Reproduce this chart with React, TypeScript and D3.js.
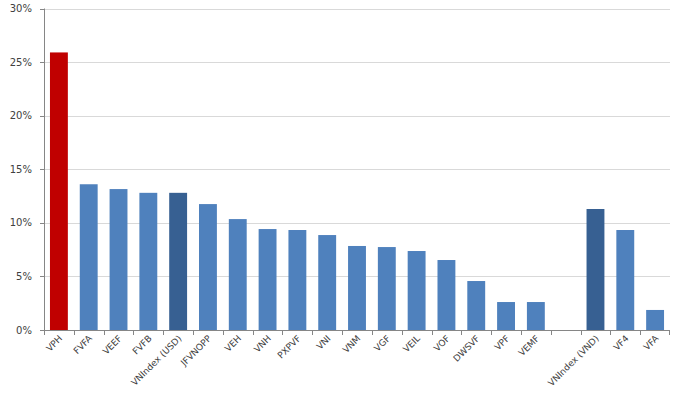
import React from "react";
import * as d3 from "d3";

const categories = ["VPH","FVFA","VEEF","FVFB","VNIndex (USD)","JFVNOPP","VEH","VNH","PXPVF","VNI","VNM","VGF","VEIL","VOF","DWSVF","VPF","VEMF","","VNIndex (VND)","VF4","VFA"];
const values: (number | null)[] = [25.9,13.6,13.15,12.8,12.8,11.75,10.35,9.42,9.33,8.86,7.84,7.74,7.37,6.53,4.57,2.61,2.61,null,11.29,9.33,1.87];
const kinds = ["hi","n","n","n","idx","n","n","n","n","n","n","n","n","n","n","n","n","n","idx","n","n"];
const yTicks = [0,5,10,15,20,25,30];

const colors: Record<string,string> = { hi: "#C00000", n: "#4F81BD", idx: "#376092" };

export default function App() {
  const W = 678, H = 407;
  const left = 44, right = 670, top = 8.5, bottom = 330;
  const x = d3.scaleBand().domain(categories.map((c, i) => String(i))).range([left, right]).paddingInner(0.4).paddingOuter(0.2);
  const y = d3.scaleLinear().domain([0, 30]).range([bottom, top]);
  const step = x.step();
  const font = "DejaVu Sans, Verdana, sans-serif";
  return (
    <svg width={W} height={H} style={{ position: "absolute", left: 0, top: 0, background: "#fff" }}>
      {yTicks.map(t => (
        <g key={t}>
          {t > 0 && <line x1={left} x2={right} y1={Math.round(y(t)) + 0.5} y2={Math.round(y(t)) + 0.5} stroke="#d9d9d9" strokeWidth={1} />}
          <line x1={left - 4} x2={left} y1={Math.round(y(t)) + 0.5} y2={Math.round(y(t)) + 0.5} stroke="#868686" />
          <text x={left - 12} y={y(t)} dy="0.35em" textAnchor="end" fontFamily={font} fontSize={10} fill="#404040">{t}%</text>
        </g>
      ))}
      {values.map((v, i) => v == null ? null : (
        <rect key={i} x={x(String(i))} y={y(v)} width={x.bandwidth()} height={y(0) - y(v)} fill={colors[kinds[i]]} />
      ))}
      <line x1={left + 0.5} x2={left + 0.5} y1={top} y2={bottom} stroke="#868686" />
      <line x1={left} x2={right} y1={bottom + 0.5} y2={bottom + 0.5} stroke="#868686" />
      {categories.map((c, i) => {
        const x0 = left + step * i;
        return <line key={"t" + i} x1={Math.round(x0) + 0.5} x2={Math.round(x0) + 0.5} y1={bottom} y2={bottom + 5} stroke="#868686" />;
      })}
      <line x1={right - 0.5} x2={right - 0.5} y1={bottom} y2={bottom + 5} stroke="#868686" />
      {categories.map((c, i) => {
        const cx = (x(String(i)) as number) + x.bandwidth() / 2 + 4;
        return c ? (
          <text key={"l" + i} transform={`translate(${cx},${bottom + 9}) rotate(-45)`} textAnchor="end" fontFamily={font} fontSize={9} fill="#404040">{c}</text>
        ) : null;
      })}
    </svg>
  );
}
